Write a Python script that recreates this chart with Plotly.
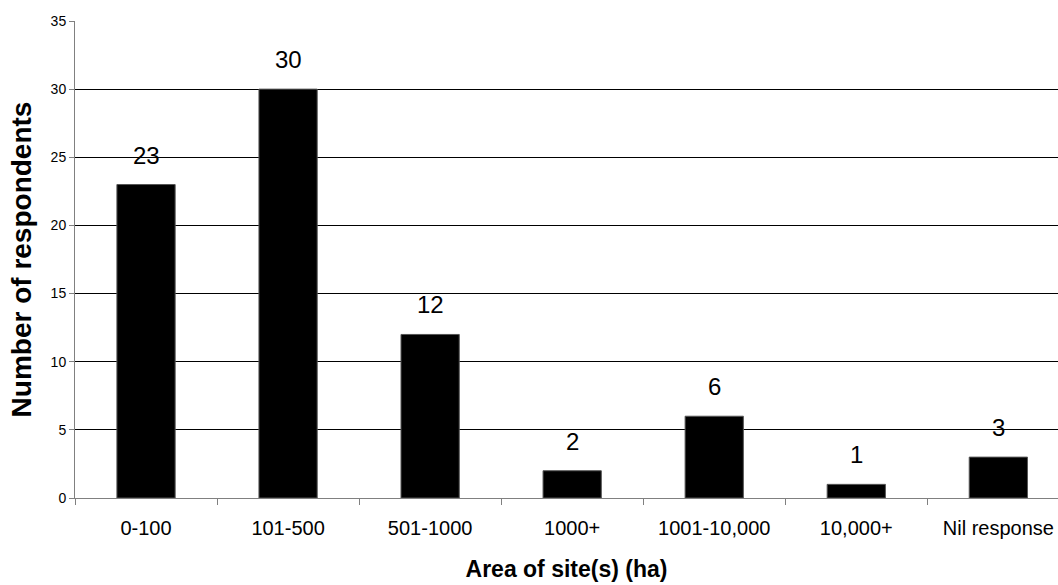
import plotly.graph_objects as go

categories = ["0-100", "101-500", "501-1000", "1000+", "1001-10,000", "10,000+", "Nil response"]
respondents = [23, 30, 12, 2, 6, 1, 3]
y_ticks = [0, 5, 10, 15, 20, 25, 30, 35]

FONT = "Arial, Liberation Sans"

fig = go.Figure()
fig.add_trace(go.Bar(
    x=categories,
    y=respondents,
    width=0.41,
    marker=dict(color="#000000", line=dict(color="#555555", width=1)),
    hoverinfo="x+y",
))

# value labels above each bar
for cat, val in zip(categories, respondents):
    fig.add_annotation(
        x=cat, y=val, text=str(val), showarrow=False,
        yanchor="bottom", yshift=14,
        font=dict(family=FONT, size=24, color="#000000"),
    )

fig.update_layout(
    width=1058, height=585,
    margin=dict(l=75, r=0, t=21, b=87),
    paper_bgcolor="white", plot_bgcolor="white",
    showlegend=False,
    font=dict(family=FONT, color="#000000"),
    xaxis=dict(
        type="category",
        range=[-0.5, 6.42],
        showline=True, linecolor="#808080", linewidth=1,
        ticks="outside", tickson="boundaries", ticklen=6, tickcolor="#808080",
        ticklabelstandoff=12,
        tickfont=dict(size=20),
        title=dict(text="<b>Area of site(s) (ha)</b>", font=dict(size=23), standoff=22),
        showgrid=False,
    ),
    yaxis=dict(
        range=[0, 35],
        tickvals=y_ticks,
        showline=True, linecolor="#808080", linewidth=1,
        ticks="outside", ticklen=5, tickcolor="#808080",
        tickfont=dict(size=14),
        showgrid=True, gridcolor="#000000", gridwidth=1,
        zeroline=False,
        title=dict(text="<b>Number of respondents</b>", font=dict(size=28), standoff=10),
    ),
)

fig.write_html("out.html")
